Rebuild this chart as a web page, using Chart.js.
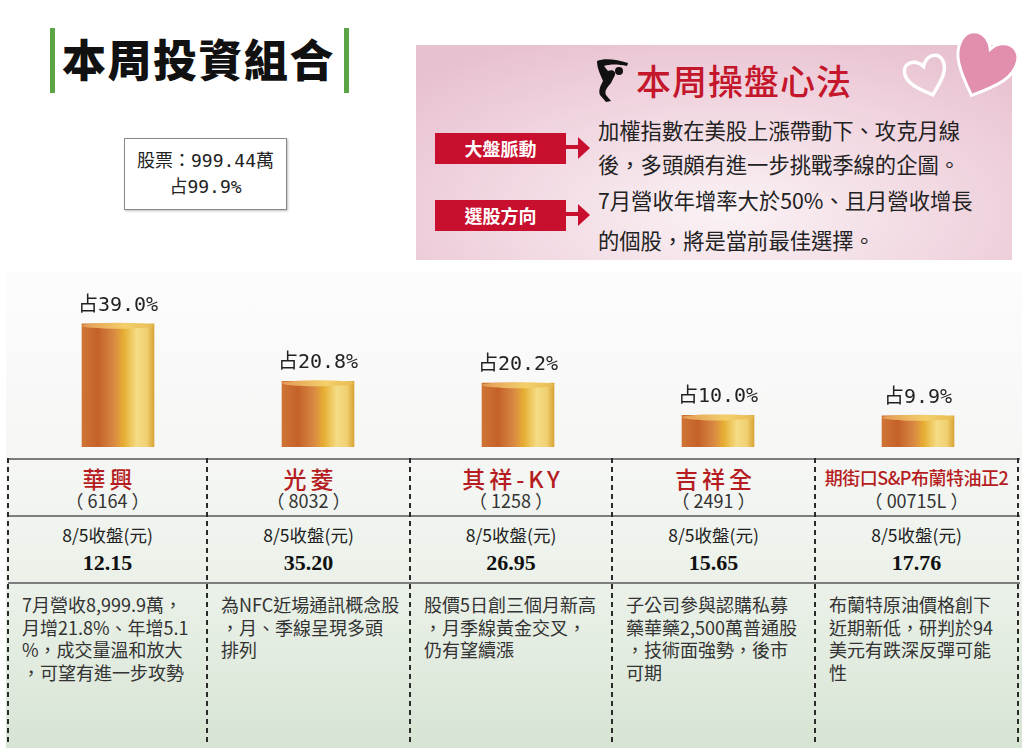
<!DOCTYPE html>
<html>
<head>
<meta charset="utf-8">
<script src="https://cdn.jsdelivr.net/npm/chart.js@4/dist/chart.umd.min.js"></script>
<style>
  html, body { margin: 0; padding: 0; background: #fff; }
  body { width: 1024px; height: 753px; position: relative; overflow: hidden;
         font-family: "Noto Sans CJK TC", "Noto Sans", sans-serif; color: #222; }
  .abs { position: absolute; }
  .gbar { position: absolute; width: 5px; background: #5ba544; top: 28px; height: 65px; }
  #title { left: 62px; top: 26px; font-size: 44px; font-weight: 900; letter-spacing: 1.5px; color: #111; }
  #summary { left: 124px; top: 138px; width: 163px; height: 72px; border: 1px solid #8a8a8a;
             box-shadow: 1px 1px 2px #bbb; background: #fff; text-align: center;
             font-family: "DejaVu Sans Mono", "Noto Sans CJK TC", monospace; font-size: 18px; line-height: 26px; padding-top: 9px; box-sizing: border-box; }
  #panel { left: 416px; top: 45px; width: 596px; height: 215px;
           background: radial-gradient(ellipse 70% 90% at 52% 78%, #faf2f5 0%, #f1d7e1 55%, #e8c1d1 100%); }
  #tip-title { left: 636px; top: 54px; font-size: 35px; color: #c4172c; font-weight: 500; letter-spacing: 1px; }
  .tag { position: absolute; left: 435px; width: 131px; height: 31px; background: #c8102e; color: #fff;
         font-size: 18px; font-weight: 700; text-align: center; line-height: 31px; }
  .tip { position: absolute; left: 598px; font-size: 21.3px; color: #222; line-height: 34px; white-space: nowrap; }
  #lower { left: 6px; top: 272px; width: 1016px; height: 476px;
           background: linear-gradient(to bottom, #fcfcfc 0%, #f6f7f5 38%, #e9f0e7 70%, #d6e4d3 100%); }
  #chartbox { left: 8px; top: 270px; width: 1010px; height: 188px; }
  .hline { position: absolute; left: 8px; width: 1012px; height: 2px; background: #7d7d7d; }
  .vline { position: absolute; top: 458px; height: 288px; width: 2px;
           background: repeating-linear-gradient(to bottom, #2a2a2a 0 5px, transparent 5px 9px); }
  .cell { position: absolute; text-align: center; white-space: nowrap; }
  .name { font-size: 23px; color: #b51d22; font-weight: 500; letter-spacing: 4px; text-indent: 4px; }
  .code { font-size: 18px; color: #333; }
  .plabel { font-size: 17.5px; color: #222; }
  .price { font-family: "Liberation Serif", serif; font-weight: 700; font-size: 22px; color: #111; }
  .note { position: absolute; font-size: 18px; line-height: 22.5px; color: #333; white-space: nowrap; }
</style>
</head>
<body>
<div class="gbar" style="left:50px"></div>
<div id="title" class="abs">本周投資組合</div>
<div class="gbar" style="left:344px"></div>

<div id="summary" class="abs">股票：999.44萬<br>占99.9%</div>

<div id="panel" class="abs"></div>
<svg class="abs" style="left:890px;top:22px" width="134" height="90" viewBox="0 0 134 90">
  <g transform="translate(36,52) rotate(-18)">
    <path d="M0,22 C-14,10 -22,2 -20,-8 C-18,-18 -6,-18 0,-8 C6,-18 18,-18 20,-8 C22,2 14,10 0,22 Z"
          fill="none" stroke="#fff" stroke-width="3.5"/>
  </g>
  <g transform="translate(95,40) rotate(22)">
    <path d="M0,36 C-22,16 -32,4 -30,-12 C-28,-28 -8,-30 0,-14 C8,-30 28,-28 30,-12 C32,4 22,16 0,36 Z"
          fill="#e28eae" stroke="#fff" stroke-width="3"/>
  </g>
</svg>
<svg class="abs" style="left:594px;top:57px" width="38" height="46" viewBox="0 0 38 46">
  <path d="M3,4 C10,1 22,2 34,6 L33,9 C24,7 16,7 10,9 L14,14 C18,12 22,14 21,18 L17,26 C14,30 10,33 12,38 L17,44 L12,45 L6,38 C4,33 7,28 9,24 L6,17 C4,12 3,8 3,4 Z" fill="#111"/>
  <circle cx="25" cy="14" r="4" fill="#111"/>
</svg>
<div id="tip-title" class="abs">本周操盤心法</div>

<div class="tag" style="top:133px">大盤脈動</div>
<div class="tag" style="top:200px">選股方向</div>
<svg class="abs" style="left:566px;top:133px" width="26" height="100" viewBox="0 0 26 100">
  <path d="M0,14 H14" stroke="#c8102e" stroke-width="4"/>
  <path d="M12,4 L24,15 L12,26 Z" fill="#c8102e"/>
  <path d="M0,81 H14" stroke="#c8102e" stroke-width="4"/>
  <path d="M12,71 L24,82 L12,93 Z" fill="#c8102e"/>
</svg>
<div class="tip" style="top:113px">加權指數在美股上漲帶動下、攻克月線</div>
<div class="tip" style="top:147px">後，多頭頗有進一步挑戰季線的企圖。</div>
<div class="tip" style="top:183px">7月營收年增率大於50%、且月營收增長</div>
<div class="tip" style="top:223px">的個股，將是當前最佳選擇。</div>

<div id="lower" class="abs"></div>
<div id="chartbox" class="abs"><canvas id="chart" width="1010" height="188"></canvas></div>
<div id="table"></div>

<script>
// ─── Data ───────────────────────────────────────
const NAMES  = ['華興', '光菱', '其祥-KY', '吉祥全', '期街口S&P布蘭特油正2'];
const CODES  = ['6164', '8032', '1258', '2491', '00715L'];
const SHARES = [39.0, 20.8, 20.2, 10.0, 9.9];
const PRICES = ['12.15', '35.20', '26.95', '15.65', '17.76'];
const NOTES  = [
    ['7月營收8,999.9萬，', '月增21.8%、年增5.1', '%，成交量溫和放大', '，可望有進一步攻勢'],
    ['為NFC近場通訊概念股', '，月、季線呈現多頭', '排列'],
    ['股價5日創三個月新高', '，月季線黃金交叉，', '仍有望續漲'],
    ['子公司參與認購私募', '藥華藥2,500萬普通股', '，技術面強勢，後市', '可期'],
    ['布蘭特原油價格創下', '近期新低，研判於94', '美元有跌深反彈可能', '性'],
];
const COL_EDGES = [8, 207, 410, 612, 815, 1018];

// ─── Table (HTML under the chart) ───────────────
const table = document.getElementById('table');
[458, 515, 582].forEach(y => {
    const l = document.createElement('div');
    l.className = 'hline';
    l.style.top = y + 'px';
    table.appendChild(l);
});
COL_EDGES.forEach(x => {
    const v = document.createElement('div');
    v.className = 'vline';
    v.style.left = (x - 1) + 'px';
    table.appendChild(v);
});
NAMES.forEach((name, i) => {
    const left = COL_EDGES[i], w = COL_EDGES[i + 1] - COL_EDGES[i];
    const add = (cls, text, top, extra) => {
        const d = document.createElement('div');
        d.className = 'cell ' + cls;
        d.style.left = left + 'px';
        d.style.width = w + 'px';
        d.style.top = top + 'px';
        if (extra) Object.assign(d.style, extra);
        d.textContent = text;
        table.appendChild(d);
    };
    add('name', name, 461, name.length > 8
        ? { fontSize: '18px', top: '464px', letterSpacing: '-0.5px', textIndent: '0' } : null);
    add('code', '（ ' + CODES[i] + ' ）', 487);
    add('plabel', '8/5收盤(元)', 522);
    add('price', PRICES[i], 550);
    const n = document.createElement('div');
    n.className = 'note';
    n.style.left = (left + 14) + 'px';
    n.style.top = '593px';
    n.innerHTML = NOTES[i].join('<br>');
    table.appendChild(n);
});

// ─── Cylinder bars ──────────────────────────────
function cylinderFill(context) {
    const chart = context.chart;
    if (!chart.chartArea || !chart.scales.x) return '#d07a34';
    const x = chart.scales.x.getPixelForValue(context.dataIndex);
    const half = 36;
    const g = chart.ctx.createLinearGradient(x - half, 0, x + half, 0);
    g.addColorStop(0.00, '#cf7534');
    g.addColorStop(0.22, '#c4612a');
    g.addColorStop(0.45, '#d98a44');
    g.addColorStop(0.58, '#e6ae32');
    g.addColorStop(0.76, '#f4dc86');
    g.addColorStop(0.90, '#f0d070');
    g.addColorStop(1.00, '#d9a436');
    return g;
}

const topsAndLabels = {
    id: 'topsAndLabels',
    afterDatasetsDraw(chart) {
        const ctx = chart.ctx;
        const meta = chart.getDatasetMeta(0);
        meta.data.forEach((bar, i) => {
            const { x, y, width } = bar.getProps(['x', 'y', 'width'], true);
            // lighter rim on the top of each cylinder
            ctx.save();
            const g = ctx.createLinearGradient(x - width / 2, 0, x + width / 2, 0);
            g.addColorStop(0, '#e39a56');
            g.addColorStop(0.6, '#f3cf6a');
            g.addColorStop(1, '#e8bb52');
            ctx.fillStyle = g;
            ctx.beginPath();
            ctx.ellipse(x, y + 2, width / 2, 3, 0, 0, Math.PI * 2);
            ctx.fill();
            ctx.restore();
            // share label
            ctx.save();
            ctx.fillStyle = '#222';
            ctx.font = '20px "DejaVu Sans Mono", "Noto Sans CJK TC", monospace';
            ctx.textAlign = 'center';
            ctx.textBaseline = 'alphabetic';
            ctx.fillText('占' + SHARES[i].toFixed(1) + '%', x, y - 13);
            ctx.restore();
        });
    }
};

new Chart(document.getElementById('chart'), {
    type: 'bar',
    data: {
        labels: NAMES,
        datasets: [{
            data: SHARES,
            backgroundColor: cylinderFill,
            borderWidth: 0,
            barThickness: 72,
        }],
    },
    options: {
        responsive: false,
        animation: false,
        layout: { padding: { left: 10, right: 0, top: 0, bottom: 11 } },
        plugins: { legend: { display: false }, tooltip: { enabled: false } },
        scales: {
            x: { display: false, grid: { display: false } },
            y: { display: false, min: 0, max: 56 },
        },
    },
    plugins: [topsAndLabels],
});
</script>
</body>
</html>
